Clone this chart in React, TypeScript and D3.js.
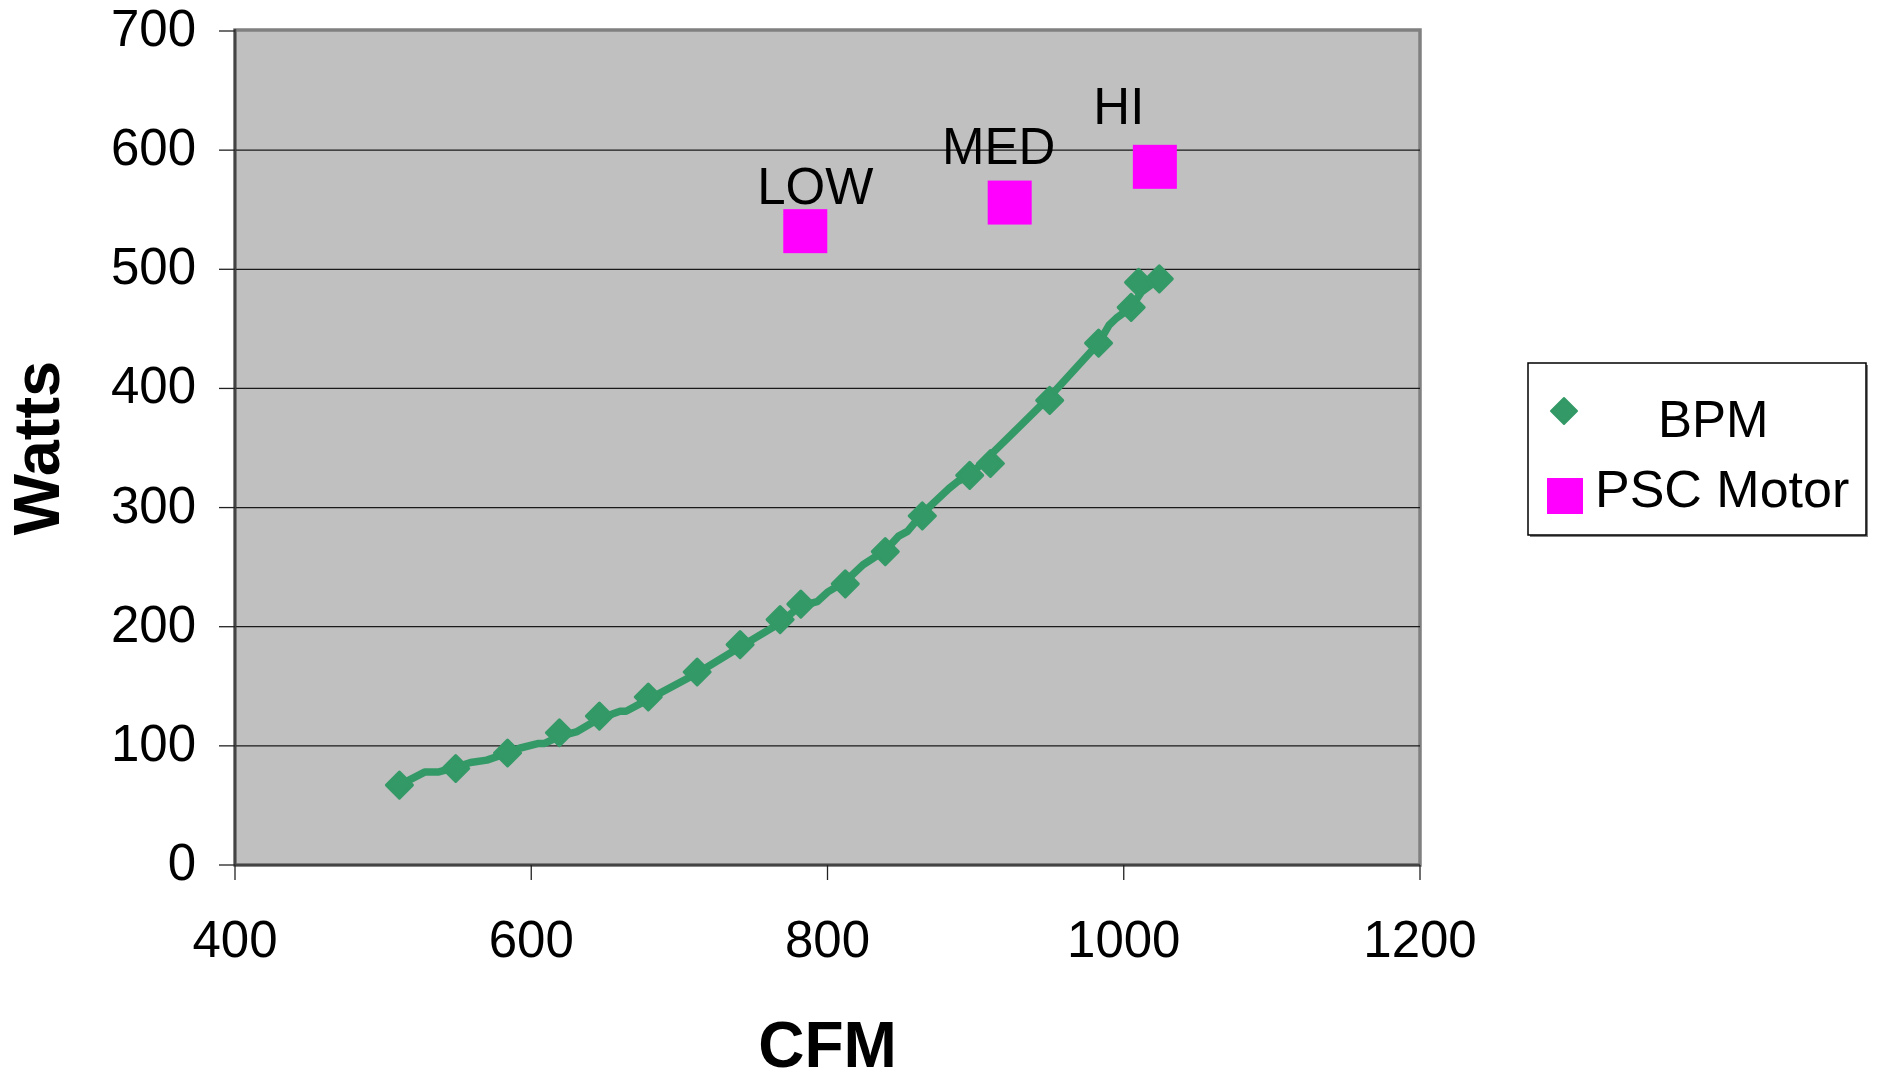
import React from 'react';
import * as d3 from 'd3';

// BPM measurements (markers)
const bpmCfm = [511, 549, 584, 619, 646, 679, 712, 741, 768, 782, 812, 839, 864, 896, 910, 950, 983, 1005, 1010, 1024];
const bpmWatts = [67, 81, 94, 111, 125, 141, 162, 185, 206, 219, 236, 263, 293, 327, 337, 390, 438, 468, 489, 492];

// BPM connecting line (it wiggles between markers)
const lineCfm = [511, 528, 537, 549, 559, 570, 584, 592, 605, 609, 619, 631, 646, 660, 664, 679, 712, 741, 768, 781, 793, 800, 812, 824, 839, 848, 854, 864, 882, 888, 896, 950, 983, 990, 995, 1005, 1012, 1024];
const lineWatts = [67, 78, 78, 82, 86, 88, 94, 98, 102, 102, 108, 112, 123, 129, 129, 139, 161, 183, 203, 217, 221, 229, 238, 252, 264, 276, 280, 295, 316, 322, 327, 393, 438, 453, 459, 468, 481, 492];

// PSC motor speeds
const pscCfm = [785, 923, 1021];
const pscWatts = [532, 556, 586];
const pscLabels = ['LOW', 'MED', 'HI'];
const pscLabelOffsets = [[10, -27], [-11, -39], [-36, -43]];

const xTicks = [400, 600, 800, 1000, 1200];
const yTicks = [0, 100, 200, 300, 400, 500, 600, 700];

const W = 1877;
const H = 1074;
const left = 235;
const right = 1420;
const top = 31;
const bottom = 865;
const font = '"Liberation Sans", Arial, sans-serif';
const green = '#339966';
const magenta = '#FF00FF';

function diamond(cx: number, cy: number, r: number) {
  return `M${cx},${cy - r}L${cx + r},${cy}L${cx},${cy + r}L${cx - r},${cy}Z`;
}

export default function App() {
  const x = d3.scaleLinear().domain([400, 1200]).range([left, right]);
  const y = d3.scaleLinear().domain([0, 700]).range([bottom, top]);

  const linePts: [number, number][] = lineCfm.map((c, i) => [c, lineWatts[i]]);
  const line = d3.line<[number, number]>()
    .x(d => x(d[0]))
    .y(d => y(d[1]));

  return (
    <svg width={W} height={H} style={{ position: 'absolute', left: 0, top: 0, background: '#fff' }} fontFamily={font}>
      {/* plot area */}
      <rect x={left} y={top - 1} width={right - left} height={bottom - top + 1} fill="#C0C0C0" stroke="#808080" strokeWidth={3.5} />

      {/* gridlines */}
      {yTicks.filter(t => t > 0 && t < 700).map(t => (
        <line key={t} x1={left} x2={right} y1={y(t)} y2={y(t)} stroke="#1a1a1a" strokeWidth={1.3} />
      ))}

      {/* axes */}
      <line x1={left} x2={left} y1={top - 2} y2={bottom} stroke="#444" strokeWidth={2.5} />
      <line x1={left} x2={right} y1={bottom} y2={bottom} stroke="#444" strokeWidth={2.5} />

      {yTicks.map(t => (
        <g key={t}>
          <line x1={left - 16} x2={left} y1={y(t)} y2={y(t)} stroke="#222" strokeWidth={1.3} />
          <text x={196} y={y(t) + 15} fontSize={51} textAnchor="end">{t}</text>
        </g>
      ))}
      {xTicks.map(t => (
        <g key={t}>
          <line x1={x(t)} x2={x(t)} y1={bottom} y2={bottom + 15} stroke="#222" strokeWidth={1.3} />
          <text x={x(t)} y={957} fontSize={51} textAnchor="middle">{t}</text>
        </g>
      ))}

      {/* BPM series */}
      <path d={line(linePts) || ''} fill="none" stroke={green} strokeWidth={7.5} strokeLinejoin="round" strokeLinecap="round" />
      {bpmCfm.map((c, i) => (
        <path key={i} d={diamond(x(c), y(bpmWatts[i]), 13)} fill={green} stroke={green} strokeWidth={3} strokeLinejoin="round" />
      ))}

      {/* PSC motor series */}
      {pscCfm.map((c, i) => (
        <g key={i}>
          <rect x={x(c) - 22} y={y(pscWatts[i]) - 22} width={44} height={44} fill={magenta} />
          <text x={x(c) + pscLabelOffsets[i][0]} y={y(pscWatts[i]) + pscLabelOffsets[i][1]} fontSize={51} textAnchor="middle">{pscLabels[i]}</text>
        </g>
      ))}

      {/* axis titles */}
      <text x={(left + right) / 2} y={1067} fontSize={64} fontWeight="bold" textAnchor="middle">CFM</text>
      <text transform={`translate(59, ${(top + bottom) / 2}) rotate(-90)`} fontSize={65} fontWeight="bold" textAnchor="middle">Watts</text>

      {/* legend */}
      <rect x={1530} y={365} width={338} height={172} fill="#808080" />
      <rect x={1528} y={363} width={338} height={172} fill="#fff" stroke="#000" strokeWidth={1.5} />
      <path d={diamond(1564, 411, 13)} fill={green} stroke={green} strokeWidth={2} strokeLinejoin="round" />
      <text x={1658} y={437} fontSize={51}>BPM</text>
      <rect x={1547} y={478} width={36} height={36} fill={magenta} />
      <text x={1595} y={507} fontSize={52}>PSC Motor</text>
    </svg>
  );
}
